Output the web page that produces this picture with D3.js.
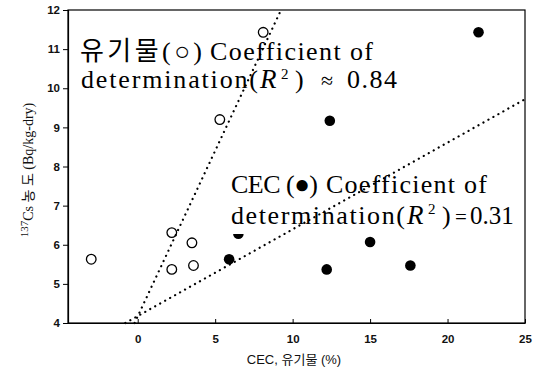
<!DOCTYPE html>
<html><head><meta charset="utf-8">
<script src="https://cdn.jsdelivr.net/npm/d3@7"></script>
<style>
html,body{margin:0;padding:0;background:#fff;}
svg{display:block;}
</style>
</head><body>
<svg id="c" width="541" height="379"></svg>
<script>
// ---- data ----
const organicX = [-3.0, 2.2, 2.2, 3.5, 3.6, 5.3, 8.1];
const organicY = [5.63, 6.31, 5.37, 6.05, 5.47, 9.2, 11.43];
const cecX = [5.9, 6.5, 12.2, 12.4, 15.0, 17.6, 22.0];
const cecY = [5.63, 6.28, 5.37, 9.17, 6.07, 5.47, 11.43];
const organicTrendX = [-0.2, 9.25];
const organicTrendY = [4, 12];
const cecTrendX = [-0.8, 25];
const cecTrendY = [4, 9.72];
const xTicks = [0, 5, 10, 15, 20, 25];
const yTicks = [4, 5, 6, 7, 8, 9, 10, 11, 12];

const svg = d3.select("#c");
const L = 68, R = 525, T = 10, B = 323;
const x = d3.scaleLinear().domain([-4.5, 25]).range([L, R]);
const y = d3.scaleLinear().domain([4, 12]).range([B, T]);

// frame
svg.append("rect").attr("x", L).attr("y", T).attr("width", R - L).attr("height", B - T)
  .attr("fill", "none").attr("stroke", "#000").attr("stroke-width", 1.2);

const sans = "'Liberation Sans', Arial, sans-serif";
// y axis
const ya = svg.append("g").attr("transform", `translate(${L},0)`)
  .call(d3.axisLeft(y).tickValues(yTicks).tickSize(5).tickPadding(3).tickFormat(d3.format("d")));
ya.select(".domain").attr("stroke-width", 1.2);
ya.selectAll("text").attr("font-family", sans).attr("font-size", 11.5).attr("font-weight", "bold").attr("fill", "#111");

// x axis
const xa = svg.append("g").attr("transform", `translate(0,${B})`)
  .call(d3.axisBottom(x).tickValues(xTicks).tickSizeInner(-4).tickSizeOuter(0).tickPadding(12).tickFormat(d3.format("d")));
xa.select(".domain").attr("stroke-width", 1.2);
xa.selectAll("text").attr("font-family", sans).attr("font-size", 11.5).attr("font-weight", "bold").attr("fill", "#111");

// axis titles
svg.append("text").attr("x", 294).attr("y", 364).attr("text-anchor", "middle")
  .attr("font-family", "'Liberation Sans', Arial, 'Noto Sans CJK KR', sans-serif").attr("font-size", 13).attr("fill", "#111")
  .text("CEC, 유기물  (%)");
const yl = svg.append("text").attr("transform", "translate(33,170) rotate(-90)").attr("text-anchor", "middle")
  .attr("font-family", "'Liberation Serif', 'Noto Sans CJK KR', serif").attr("font-size", 14).attr("fill", "#111");
yl.append("tspan").attr("font-size", 11).attr("dy", -5).text("137");
yl.append("tspan").attr("dy", 5).text("Cs 농 도 (Bq/kg-dry)");

// points
const org = organicX.map((v, i) => ({x: v, y: organicY[i]}));
const cec = cecX.map((v, i) => ({x: v, y: cecY[i]}));
svg.append("g").selectAll("circle").data(org).join("circle")
  .attr("cx", d => x(d.x)).attr("cy", d => y(d.y)).attr("r", 4.8)
  .attr("fill", "#fff").attr("stroke", "#000").attr("stroke-width", 1.3);
svg.append("g").selectAll("circle").data(cec).join("circle")
  .attr("cx", d => x(d.x)).attr("cy", d => y(d.y)).attr("r", 5.3)
  .attr("fill", "#000");

// white backing behind second label's lower line
svg.append("rect").attr("x", 230).attr("y", 204).attr("width", 200).attr("height", 30).attr("fill", "#fff");

// annotations
const serif = "'Liberation Serif', 'Times New Roman', 'Noto Sans CJK KR', serif";
function piece(str, x0, y0, len, opts = {}) {
  const t = svg.append("text").attr("x", x0).attr("y", y0)
    .attr("font-family", opts.family || serif).attr("font-size", opts.size || 26).attr("fill", "#000");
  if (opts.italic) t.attr("font-style", "italic");
  if (len) t.attr("textLength", len).attr("lengthAdjust", "spacing");
  t.text(str);
  return t;
}
// block 1
piece("유기물(○)", 80, 60, 122);
piece("Coefficient of", 210, 60, 163);
piece("determination(", 81, 88, 177);
piece("R", 260, 88, null, {italic: true, size: 27});
piece("2", 281, 79, null, {size: 15});
piece(")", 295, 88);
piece("≈", 321, 88, null, {size: 22});
piece("0.84", 347, 88, 50);
// block 2
piece("CEC (●)", 231, 193, 87);
piece("Coefficient of", 326, 193, 161);
piece("determination(", 231, 224, 174);
piece("R", 407, 224, null, {italic: true, size: 27});
piece("2", 428, 214, null, {size: 15});
piece(")", 442, 224);
piece("=", 455, 224, null, {size: 21});
piece("0.31", 470, 224, null, {size: 25});

// trend lines (dotted)
const line = d3.line().x(d => x(d[0])).y(d => y(d[1]));
[[organicTrendX, organicTrendY], [cecTrendX, cecTrendY]].forEach(([tx, ty]) => {
  svg.append("path").attr("d", line(tx.map((v, i) => [v, ty[i]])))
    .attr("fill", "none").attr("stroke", "#000").attr("stroke-width", 2.2)
    .attr("stroke-linecap", "round").attr("stroke-dasharray", "0.1 5.6");
});
</script>
</body></html>
